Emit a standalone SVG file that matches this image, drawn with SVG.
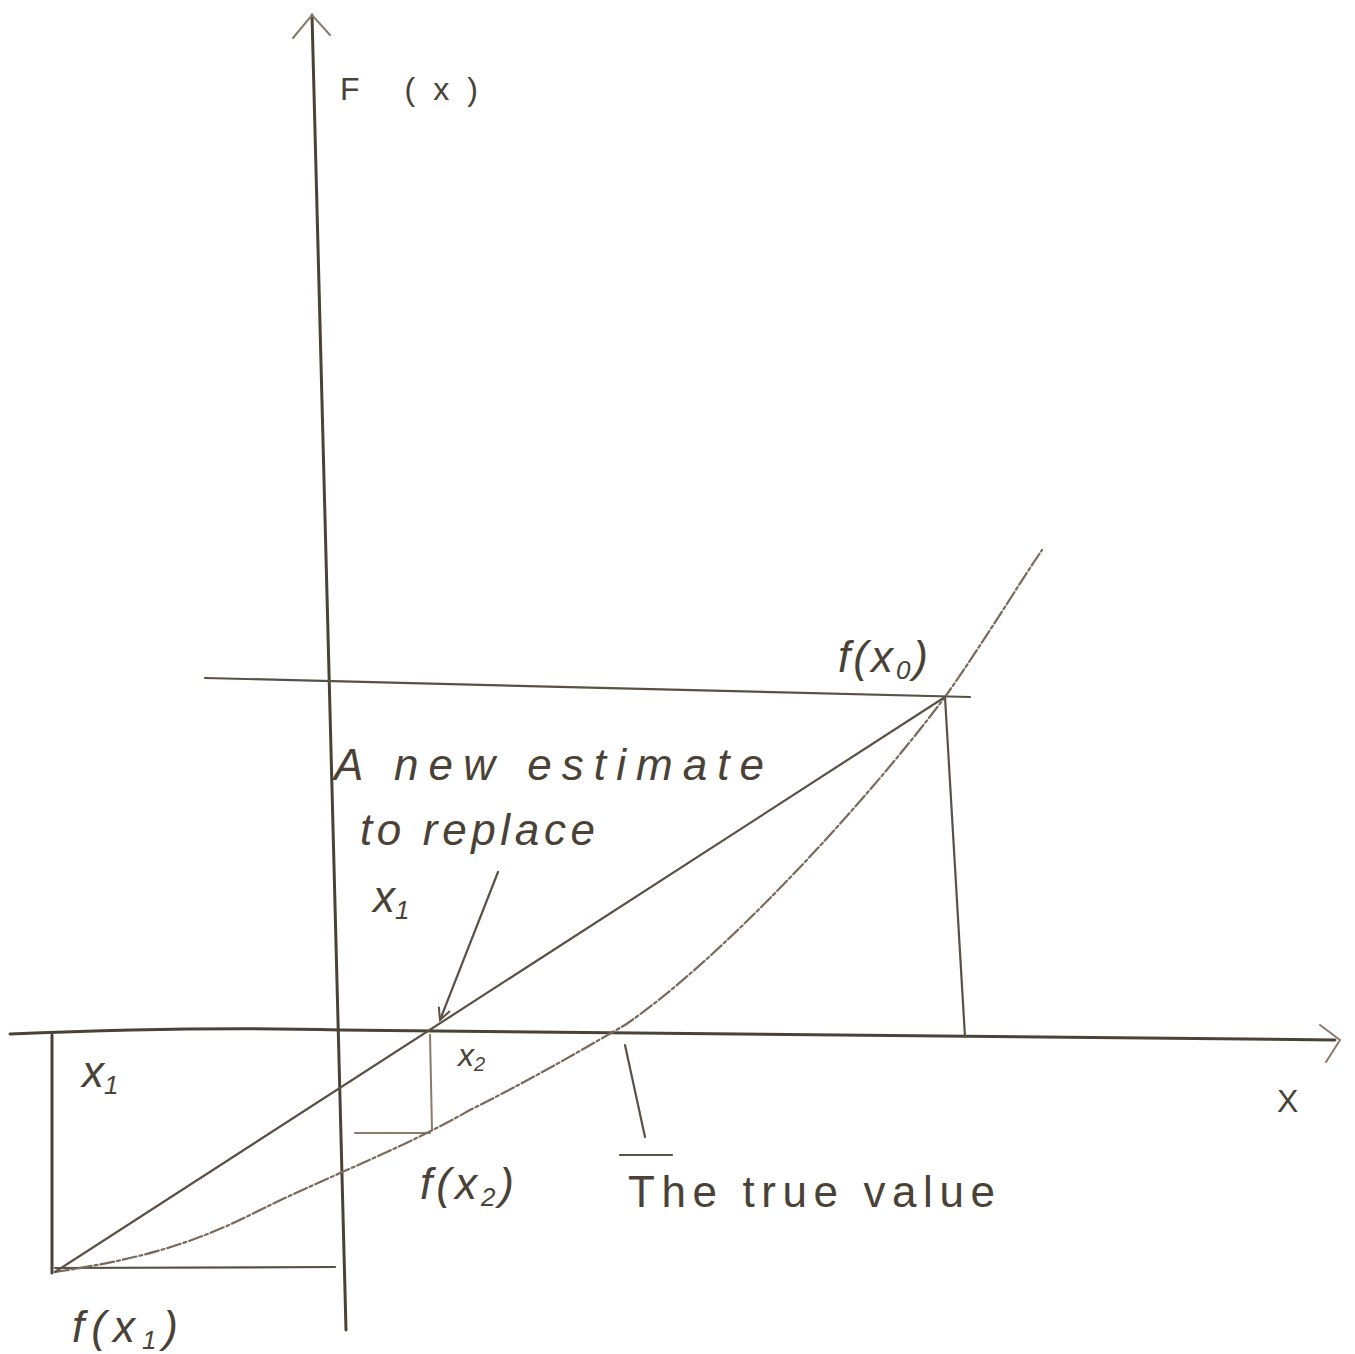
<svg xmlns="http://www.w3.org/2000/svg" width="1355" height="1354" viewBox="0 0 1355 1354">
<style>
.ax{stroke:#4a4236;stroke-width:3;fill:none;stroke-linecap:round}
.ln{stroke:#5a5044;stroke-width:2.2;fill:none;stroke-linecap:round}
.fa{stroke:#8a7a6a;stroke-width:2;fill:none;stroke-linecap:round}
.cv{stroke:#7a6a5c;stroke-width:2.2;fill:none;stroke-dasharray:14 3 3 3;stroke-linecap:round}
text{font-family:"Liberation Sans",Arial,sans-serif;fill:#4a4236;font-style:italic}
.t{font-size:44px}
.s{font-size:32px}
</style>
<defs>
<marker id="ah" markerWidth="16" markerHeight="16" refX="14" refY="8" orient="auto" markerUnits="userSpaceOnUse">
<path d="M2,2 L14,8 L2,14" fill="none" stroke="#5a5044" stroke-width="2"/>
</marker>
</defs>
<rect width="1355" height="1354" fill="#ffffff"/>
<g id="axes">
<line class="ax" x1="312" y1="15" x2="346" y2="1330"/>
<path class="fa" d="M293,38 L312,15 L330,35"/>
<path class="ax" d="M10,1034 Q200,1026 340,1030 L1335,1040"/>
<path class="fa" d="M1320,1025 L1340,1040 L1326,1062"/>
</g>
<g id="guides">
<line class="ln" x1="205" y1="678" x2="970" y2="697"/>
<line class="ln" x1="945" y1="697" x2="965" y2="1037"/>
<line class="ax" x1="52" y1="1035" x2="52" y2="1273"/>
<line class="ln" x1="55" y1="1268" x2="335" y2="1267"/>
<line class="fa" x1="430" y1="1035" x2="432" y2="1130"/>
<line class="fa" x1="355" y1="1133" x2="430" y2="1133"/>
</g>
<g id="curve">
<path class="cv" d="M55,1272 C120,1262 180,1250 250,1215 C330,1175 400,1150 470,1110 C540,1075 590,1045 625,1025 C720,960 860,810 945,697 C985,640 1015,590 1042,550"/>
</g>
<g id="secant">
<line class="ln" x1="55" y1="1272" x2="945" y2="697"/>
</g>
<g id="connectors">
<line class="ln" x1="498" y1="872" x2="440" y2="1020" marker-end="url(#ah)"/>
<line class="ln" x1="625" y1="1045" x2="645" y2="1137"/>
<line class="ln" x1="620" y1="1155" x2="672" y2="1155"/>
</g>
<g id="labels">
<text class="s" x="340" y="100" style="font-style:normal" fill="#8a7a6a" textLength="138" lengthAdjust="spacing">F (x)</text>
<text class="t" x="334" y="780" textLength="430" lengthAdjust="spacing">A new estimate</text>
<text class="t" x="360" y="845" textLength="235" lengthAdjust="spacing">to replace</text>
<text class="t" x="373" y="912">x<tspan font-size="26" dy="7">1</tspan></text>
<text class="t" x="82" y="1087">x<tspan font-size="26" dy="7">1</tspan></text>
<text class="s" x="458" y="1066">x<tspan font-size="20" dy="5">2</tspan></text>
<text class="t" x="420" y="1199" letter-spacing="4">f(x<tspan font-size="26" dy="7">2</tspan><tspan dy="-7">)</tspan></text>
<text class="t" x="628" y="1207" style="font-style:normal" textLength="367" lengthAdjust="spacing">The true value</text>
<text class="t" x="838" y="672" letter-spacing="3">f(x<tspan font-size="26" dy="7">0</tspan><tspan dy="-7">)</tspan></text>
<text class="t" x="72" y="1342" letter-spacing="7">f(x<tspan font-size="26" dy="7">1</tspan><tspan dy="-7">)</tspan></text>
<text class="s" x="1277" y="1112" style="font-style:normal">X</text>
</g>
</svg>
